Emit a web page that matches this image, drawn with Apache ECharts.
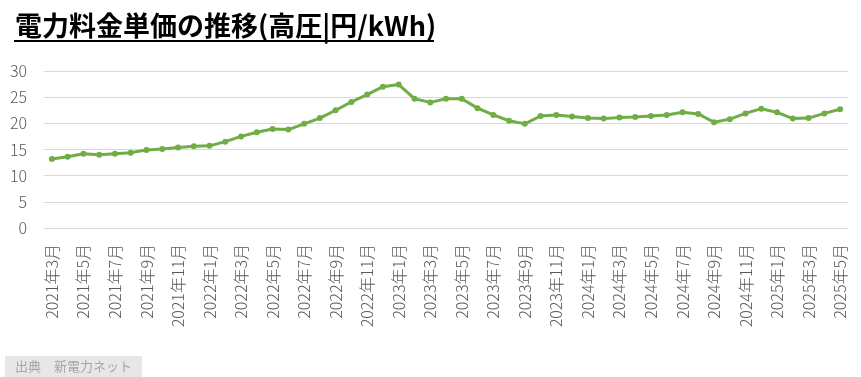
<!DOCTYPE html>
<html>
<head>
<meta charset="utf-8">
<script src="https://cdn.jsdelivr.net/npm/echarts@6/dist/echarts.min.js"></script>
<style>
  html, body { margin: 0; padding: 0; background: #fff; }
  #chart { width: 861px; height: 377px; }
</style>
</head>
<body>
<div id="chart"></div>
<script>
// monthly points, 2021年3月 .. 2025年5月
const startYear = 2021;
const startMonth = 3;

const prices = [
    13.2, 13.6, 14.2, 14.0, 14.2, 14.4, 14.9, 15.1, 15.4, 15.6,
    15.7, 16.5, 17.5, 18.3, 18.9, 18.8, 19.9, 21.0, 22.5, 24.1,
    25.5, 27.0, 27.4, 24.7, 24.0, 24.7, 24.7, 22.9, 21.6, 20.5,
    19.9, 21.4, 21.6, 21.3, 21.0, 20.9, 21.1, 21.2, 21.4, 21.6,
    22.1, 21.8, 20.2, 20.8, 21.9, 22.8, 22.1, 20.9, 21.0, 21.9,
    22.7
];

const months = prices.map((_, i) => {
    const m = startMonth - 1 + i;
    return `${startYear + Math.floor(m / 12)}年${(m % 12) + 1}月`;
});

const yTicks = { min: 0, max: 30, interval: 5 };

const titleText = '電力料金単価の推移(高圧|円/kWh)';
const sourceText = '出典　新電力ネット';

const myChart = echarts.init(document.getElementById('chart'));

const option = {
    animation: false,
    backgroundColor: '#fff',
    title: [
        {
            text: titleText,
            left: 10,
            top: 7,
            textStyle: {
                fontFamily: 'Noto Sans CJK JP',
                fontSize: 27,
                fontWeight: 'bold',
                color: '#000'
            }
        },
        {
            text: sourceText,
            left: 5,
            bottom: 0,
            backgroundColor: '#e7e7e7',
            padding: [4, 10, 4, 10],
            textStyle: {
                fontFamily: 'Noto Sans CJK JP',
                fontSize: 13,
                fontWeight: 'normal',
                color: '#a6a6a6'
            }
        }
    ],
    graphic: [
        {
            // underline of the title
            type: 'line',
            shape: { x1: 14, y1: 41, x2: 434, y2: 41 },
            style: { stroke: '#000', lineWidth: 2 }
        }
    ],
    grid: {
        left: 44,
        right: 13,
        top: 71,
        bottom: 149
    },
    xAxis: {
        type: 'category',
        data: months,
        boundaryGap: true,
        axisLine: { show: false },
        axisTick: { show: false },
        axisLabel: {
            interval: 1,
            rotate: 90,
            margin: 16,
            fontFamily: 'Noto Sans CJK JP',
            fontSize: 16,
            fontWeight: 300,
            color: '#595959'
        }
    },
    yAxis: {
        type: 'value',
        min: yTicks.min,
        max: yTicks.max,
        interval: yTicks.interval,
        axisLine: { show: false },
        axisTick: { show: false },
        splitLine: { lineStyle: { color: '#d9d9d9', width: 1 } },
        axisLabel: {
            margin: 17,
            fontFamily: 'Noto Sans CJK JP',
            fontSize: 16,
            fontWeight: 300,
            color: '#595959'
        }
    },
    series: [
        {
            name: '高圧',
            type: 'line',
            data: prices,
            symbol: 'circle',
            symbolSize: 6,
            lineStyle: { color: '#70ad47', width: 3 },
            itemStyle: { color: '#70ad47' }
        }
    ]
};

option && myChart.setOption(option);
</script>
</body>
</html>
